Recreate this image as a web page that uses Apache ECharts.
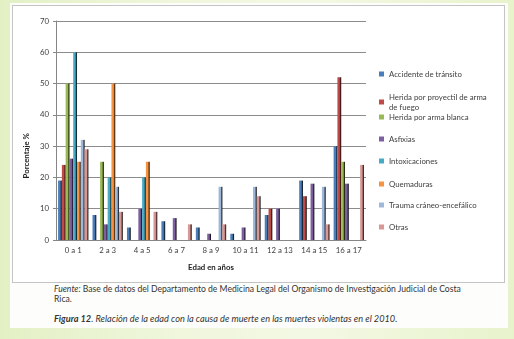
<!DOCTYPE html>
<html>
<head>
<meta charset="utf-8">
<script src="https://cdn.jsdelivr.net/npm/echarts@6/dist/echarts.min.js"></script>
<style>
    html, body { margin: 0; padding: 0; }
    body {
        width: 514px; height: 339px; overflow: hidden; position: relative;
        background: linear-gradient(90deg, #e3f0c4 0%, #eef6da 30%, #f3f8e4 60%, #e8f3cc 100%);
        font-family: Lato, "Open Sans", sans-serif;
    }
    #page {
        position: absolute; left: 10px; top: 3px; width: 498px; height: 325px;
        background: #fdfefb;
    }
    #chart {
        position: absolute; left: 12px; top: 5px; width: 491px; height: 276px;
        border: 1px solid #c4c4c4; background: #ffffff;
    }
    .note {
        position: absolute; left: 54px; font-size: 8.6px; color: #333; line-height: 10px;
    }
</style>
</head>
<body>
<div id="page"></div>
<div id="chart"></div>
<div class="note" style="top:284px; width:412px;"><i>Fuente:</i> Base de datos del Departamento de Medicina Legal del Organismo de Investigación Judicial de Costa Rica.</div>
<div class="note" style="top:314px; font-size:9.2px;"><b><i>Figura 12</i></b><i>. Relación de la edad con la causa de muerte en las muertes violentas en el 2010.</i></div>
<script>
const categories = ['0 a 1', '2 a 3', '4 a 5', '6 a 7', '8 a 9', '10 a 11', '12 a 13', '14 a 15', '16 a 17'];
const seriesNames = ['Accidente de tránsito', 'Herida por proyectil de arma de fuego', 'Herida por arma blanca',
    'Asfixias', 'Intoxicaciones', 'Quemaduras', 'Trauma cráneo-encefálico', 'Otras'];
const accidente  = [19, 8, 4, 6, 4, 2, 8, 19, 30];
const proyectil  = [24, 0, 0, 0, 0, 0, 10, 14, 52];
const blanca     = [50, 25, 0, 0, 0, 0, 0, 0, 25];
const asfixias   = [26, 5, 10, 7, 2, 4, 10, 18, 18];
const intox      = [60, 20, 20, 0, 0, 0, 0, 0, 0];
const quemaduras = [25, 50, 25, 0, 0, 0, 0, 0, 0];
const trauma     = [32, 17, 0, 0, 17, 17, 0, 17, 0];
const otras      = [29, 9, 9, 5, 5, 14, 0, 5, 24];
const yTicks = [0, 10, 20, 30, 40, 50, 60, 70];

const values = [accidente, proyectil, blanca, asfixias, intox, quemaduras, trauma, otras];
const colors = ['#4a7ebb', '#be4b48', '#98b954', '#7d60a0', '#46aac5', '#f69240', '#9db8da', '#d99795'];
// legend item tops (chart coords)
const legendTops = [63, 86, 106, 128, 150, 173, 194, 216];

let chart = echarts.init(document.getElementById('chart'));

let legends = seriesNames.map((name, i) => ({
    data: [name],
    left: 366,
    top: legendTops[i],
    padding: 0,
    itemWidth: 5,
    itemHeight: 5,
    itemGap: 0,
    selectedMode: false,
    icon: 'rect',
    itemStyle: { color: colors[i] },
    formatter: n => n === seriesNames[1] ? 'Herida por proyectil de arma\nde fuego' : n,
    textStyle: { color: '#404040', fontSize: 7.8, fontFamily: 'Lato', lineHeight: 10 }
}));

let option = {
    animation: false,
    textStyle: { fontFamily: 'Lato' },
    legend: legends,
    grid: { left: 43, right: 138, top: 15, bottom: 42, containLabel: false, outerBoundsMode: 'none' },
    xAxis: {
        type: 'category',
        data: categories,
        name: 'Edad en años',
        nameLocation: 'middle',
        nameGap: 23,
        nameTextStyle: { color: '#222', fontSize: 7.8, fontWeight: 'bold' },
        axisLine: { lineStyle: { color: '#868686' } },
        axisTick: { length: 3, lineStyle: { color: '#868686' } },
        axisLabel: { color: '#404040', fontSize: 7.8, margin: 6 }
    },
    yAxis: {
        type: 'value',
        min: yTicks[0],
        max: yTicks[yTicks.length - 1],
        interval: 10,
        axisLine: { show: true, lineStyle: { color: '#868686' } },
        axisTick: { show: true, length: 3, lineStyle: { color: '#868686' } },
        splitLine: { lineStyle: { color: '#8c8c8c', width: 1 } },
        axisLabel: { color: '#404040', fontSize: 7.8, margin: 7 }
    },
    graphic: [{
        type: 'text',
        left: 9,
        top: 127,
        rotation: Math.PI / 2,
        style: { text: 'Porcentaje %', fill: '#222', font: 'bold 7.8px Lato' }
    }],
    series: seriesNames.map((name, i) => ({
        name: name,
        type: 'bar',
        data: values[i],
        barGap: '0%',
        barCategoryGap: '12%',
        itemStyle: {
            color: new echarts.graphic.LinearGradient(0, 0, 1, 0, [
                { offset: 0, color: colors[i] },
                { offset: 0.5, color: colors[i] },
                { offset: 1, color: echarts.color.modifyHSL(colors[i], null, null, -0.08) }
            ])
        }
    }))
};
chart.setOption(option);
</script>
</body>
</html>
